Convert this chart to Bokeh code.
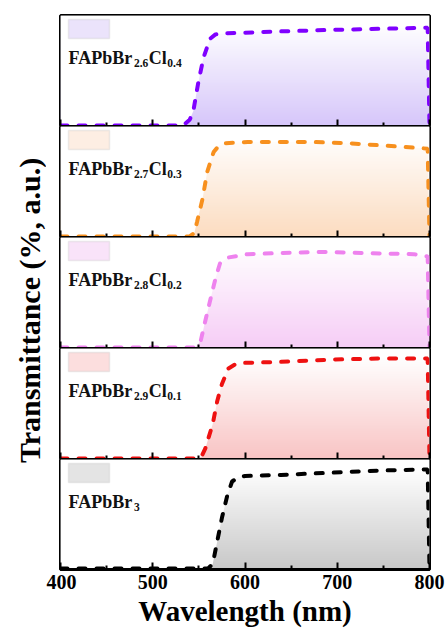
import numpy as np
from bokeh.plotting import figure
from bokeh.layouts import column, row
from bokeh.models import Label, BoxAnnotation, Range1d, FixedTicker
from bokeh.embed import file_html
from bokeh.resources import INLINE

# ---------------- data ----------------
wl_cl04 = [400, 450, 500, 533, 540, 544, 549, 555, 562, 568, 580, 600, 638, 693, 747, 798, 800]
t_cl04 = [1, 1, 1, 1, 6, 14, 38, 62, 79, 83, 84, 84.5, 85.7, 87, 88, 89, 0]

wl_cl03 = [400, 450, 500, 540, 545, 548, 554, 559, 566, 572, 579, 603, 639, 674, 711, 747, 783, 798, 800]
t_cl03 = [1, 1, 1, 1, 4, 14, 35, 59, 77, 83, 85, 86, 86, 86, 85, 83, 81, 80, 0]

wl_cl02 = [400, 450, 500, 546, 552, 557, 563, 568, 573, 582, 603, 639, 683, 729, 783, 798, 800]
t_cl02 = [1, 1, 1, 1, 7, 25, 46, 63, 77, 82, 85, 86, 87, 86, 85, 83, 0]

wl_cl01 = [400, 450, 500, 550, 553, 557, 565, 570, 575, 582, 590, 598, 639, 693, 747, 798, 800]
t_cl01 = [1, 1, 1, 1, 3, 10, 32, 53, 68, 82, 86, 87, 88, 90, 91, 91, 0]

wl_br3 = [400, 450, 500, 560, 565, 570, 575, 581, 586, 593, 600, 639, 693, 747, 798, 800]
t_br3 = [1, 1, 1, 1, 5, 26, 47, 68, 80, 84, 85, 86, 88, 90, 91, 0]

series_wl = [wl_cl04, wl_cl03, wl_cl02, wl_cl01, wl_br3]
series_t = [t_cl04, t_cl03, t_cl02, t_cl01, t_br3]
labels = [("FAPbBr", "2.6", "Cl", "0.4"),
          ("FAPbBr", "2.7", "Cl", "0.3"),
          ("FAPbBr", "2.8", "Cl", "0.2"),
          ("FAPbBr", "2.9", "Cl", "0.1"),
          ("FAPbBr", "3", "", "")]
line_colors = ["#7f00ff", "#f7901e", "#ee82ee", "#ee1111", "#000000"]
fill_colors = ["#d6c6fa", "#fcdcc0", "#f6cdf6", "#f9c4c4", "#c8c8c8"]
box_colors = ["#ebe3fb", "#fdeee3", "#f9e3f9", "#fcdede", "#e4e4e4"]
x_ticks = [400, 500, 600, 700, 800]
x_minor = [450, 550, 650, 750]

FONT = "Liberation Serif"
FRAME_W = 369
FRAME_H = [111, 111, 111, 111, 110]
PXX = 400.0 / FRAME_W
TOP = 15
BOTTOM = 61
LAB_W = 46
BL = 14
BR = 16


def hex_rgb(h):
    h = h.lstrip("#")
    return [int(h[i:i + 2], 16) for i in (0, 2, 4)]


def gradient_image(color, rows=120):
    c = np.array(hex_rgb(color), dtype=float)
    img = np.zeros((rows, 1), dtype=np.uint32)
    view = img.view(dtype=np.uint8).reshape((rows, 1, 4))
    for r in range(rows):
        yv = (r + 0.5) / rows * 100
        f = min(max(1 - yv / 92.0, 0), 1)
        col = 255 + (c - 255) * f
        view[r, 0, 0:3] = col.astype(np.uint8)
        view[r, 0, 3] = 255
    return img


def tw(s, size):
    # Times/Liberation Serif Bold advance widths (per 1000 em)
    w = {"F": 611, "A": 722, "P": 611, "b": 556, "B": 667, "r": 444, "C": 722,
         "l": 278, ".": 250}
    return sum(w.get(ch, 500) for ch in s) * size / 1000.0


panels = []
n = len(series_wl)
for i in range(n):
    last = i == n - 1
    top = TOP if i == 0 else 0
    bottom = BOTTOM if last else 0
    fh = FRAME_H[i]
    p = figure(width=BL + FRAME_W + BR, height=top + fh + bottom,
               x_range=Range1d(400, 800), y_range=Range1d(0, 100),
               output_backend="svg", toolbar_location=None,
               y_axis_location=None,
               min_border_left=BL, min_border_right=BR,
               min_border_top=top, min_border_bottom=bottom)
    p.grid.visible = False
    p.outline_line_color = "black"
    p.outline_line_width = 3
    p.background_fill_color = "white"
    p.border_fill_color = "white"

    ax = p.xaxis[0]
    ax.ticker = FixedTicker(ticks=x_ticks, minor_ticks=x_minor)
    ax.major_tick_in = 7
    ax.major_tick_out = 0
    ax.minor_tick_in = 4
    ax.minor_tick_out = 0
    ax.major_tick_line_width = 2
    ax.minor_tick_line_width = 2
    ax.axis_line_width = 3
    if last:
        ax.major_label_text_font = FONT
        ax.major_label_text_font_style = "bold"
        ax.major_label_text_font_size = "20px"
        ax.major_label_text_color = "black"
        ax.major_label_standoff = 5
        ax.axis_label = "Wavelength (nm)"
        ax.axis_label_text_font = FONT
        ax.axis_label_text_font_style = "bold"
        ax.axis_label_text_font_size = "29px"
        ax.axis_label_text_color = "black"
        ax.axis_label_standoff = 3
    else:
        ax.major_label_text_font_size = "0px"
        ax.major_label_standoff = 0
        ax.major_label_overrides = {t: "" for t in x_ticks}

    wl = series_wl[i]
    tr = series_t[i]
    # gradient fill under the curve: gradient image masked by white above curve
    p.image_rgba(image=[gradient_image(fill_colors[i])], x=400, y=0, dw=400, dh=100)
    p.varea(x=wl, y1=tr, y2=[100] * len(wl), fill_color="white")
    p.line(wl, tr, line_color=line_colors[i], line_width=4,
           line_dash="7 11", line_cap="round")

    # legend-like box
    box_top = 100 - 4 / fh * 100
    box_bot = 100 - 23 / fh * 100
    p.add_layout(BoxAnnotation(left=400 + 8 * PXX, right=400 + 49 * PXX,
                               top=box_top, bottom=box_bot,
                               fill_color=box_colors[i], fill_alpha=1,
                               line_color="#c4c4c4", line_width=1.5))

    # composition label with subscripts
    main, sub1, mid, sub2 = labels[i]
    base_y = 100 - 42 / fh * 100
    sub_y = base_y - 5 / fh * 100
    xpx = 8.0
    parts = [(main, 18, base_y), (sub1, 11.5, sub_y), (mid, 18, base_y), (sub2, 11.5, sub_y)]
    for txt, sz, yy in parts:
        if not txt:
            continue
        p.add_layout(Label(x=400 + xpx * PXX, y=yy, text=txt,
                           text_font=FONT, text_font_style="bold",
                           text_font_size=f"{sz}px", text_color="#111111",
                           text_align="left", text_baseline="alphabetic"))
        xpx += tw(txt, sz) + 0.5
    panels.append(p)

total_h = sum(pp.height for pp in panels)

lab = figure(width=LAB_W, height=total_h, x_range=Range1d(0, LAB_W), y_range=Range1d(0, total_h),
             output_backend="svg", toolbar_location=None,
             x_axis_location=None, y_axis_location=None,
             min_border=0, min_border_left=0, min_border_right=0,
             min_border_top=0, min_border_bottom=0)
lab.grid.visible = False
lab.outline_line_color = None
lab.add_layout(Label(x=29, y=total_h - 310, text="Transmittance (%, a.u.)",
                     angle=np.pi / 2, text_font=FONT, text_font_style="bold",
                     text_font_size="30px", text_color="black",
                     text_align="center", text_baseline="middle"))

layout = row(lab, column(*panels, spacing=0), spacing=0)

open("out.html", "w").write(file_html(layout, INLINE))
